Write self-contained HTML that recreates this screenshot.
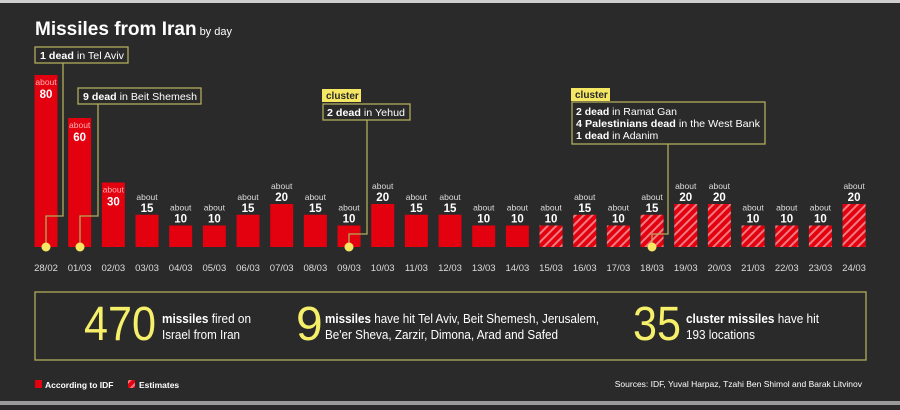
<!DOCTYPE html>
<html><head><meta charset="utf-8"><style>
html,body{margin:0;padding:0;background:#2a2a2a;}
body{width:900px;height:405px;overflow:hidden;position:relative;font-family:"Liberation Sans",sans-serif;}
svg text{font-family:"Liberation Sans",sans-serif;}
</style></head><body>
<svg id="chart" width="900" height="405" viewBox="0 0 900 405" xmlns="http://www.w3.org/2000/svg">
<defs>
<pattern id="hatch" patternUnits="userSpaceOnUse" width="6" height="6" patternTransform="rotate(45)">
<rect width="6" height="6" fill="#e3000f"/><rect width="2" height="6" fill="#f07a80"/>
</pattern>
</defs>
<rect x="0" y="0" width="900" height="405" fill="#2a2a2a"/>
<rect x="0" y="0" width="900" height="3" fill="#cfcfcf"/>
<rect x="0" y="401" width="900" height="4" fill="#9a9a9a"/>
<text x="35" y="35" fill="#fff" font-size="19" font-weight="bold">Missiles from Iran<tspan font-size="11" font-weight="normal" dx="3">by day</tspan></text>
<g id="bars"></g>
<g id="annotations">
<g fill="none" stroke="#b1ab5c" stroke-width="1.3">
<polyline points="63,63 63,216 46,216 46,247"/>
<polyline points="98,104 98,216 80,216 80,247"/>
<polyline points="367,120 367,234 349,234 349,247"/>
<polyline points="668,144 668,234 652,234 652,247"/>
<rect x="35" y="47" width="93" height="16" fill="#2a2a2a"/>
<rect x="78" y="88" width="123" height="16" fill="#2a2a2a"/>
<rect x="323" y="104" width="87" height="16" fill="#2a2a2a"/>
<rect x="572" y="102" width="193" height="42" fill="#2a2a2a"/>
<rect x="35" y="292" width="831" height="68"/>
</g>
<g fill="#f5e663">
<circle cx="46" cy="247" r="4.5"/><circle cx="80" cy="247" r="4.5"/><circle cx="349" cy="247" r="4.5"/><circle cx="652" cy="247" r="4.5"/>
<rect x="322" y="89" width="39" height="13"/><rect x="571" y="88" width="39" height="13"/>
</g>
<g fill="#2a2a2a" font-size="10" font-weight="bold"><text x="326" y="99">cluster</text><text x="575" y="98">cluster</text></g>
<g fill="#fff" font-size="10.5">
<text x="40" y="59" textLength="84" lengthAdjust="spacingAndGlyphs"><tspan font-weight="bold">1 dead</tspan> in Tel Aviv</text>
<text x="83" y="100" textLength="114" lengthAdjust="spacingAndGlyphs"><tspan font-weight="bold">9 dead</tspan> in Beit Shemesh</text>
<text x="327" y="116" textLength="78" lengthAdjust="spacingAndGlyphs"><tspan font-weight="bold">2 dead</tspan> in Yehud</text>
<text x="576" y="115"><tspan font-weight="bold">2 dead</tspan> in Ramat Gan</text>
<text x="576" y="127" textLength="184" lengthAdjust="spacingAndGlyphs"><tspan font-weight="bold">4 Palestinians dead</tspan> in the West Bank</text>
<text x="576" y="139"><tspan font-weight="bold">1 dead</tspan> in Adanim</text>
</g>
</g>
<g>
<text x="84" y="340" fill="#f5ef6a" font-size="48" textLength="72" lengthAdjust="spacingAndGlyphs">470</text>
<text x="162" y="323" fill="#fff" font-size="12.5" textLength="89" lengthAdjust="spacingAndGlyphs"><tspan font-weight="bold">missiles</tspan> fired on</text>
<text x="162" y="339" fill="#fff" font-size="12.5" textLength="78" lengthAdjust="spacingAndGlyphs">Israel from Iran</text>
<text x="296" y="340" fill="#f5ef6a" font-size="48">9</text>
<text x="325" y="323" fill="#fff" font-size="12.5" textLength="274" lengthAdjust="spacingAndGlyphs"><tspan font-weight="bold">missiles</tspan> have hit Tel Aviv, Beit Shemesh, Jerusalem,</text>
<text x="325" y="339" fill="#fff" font-size="12.5" textLength="233" lengthAdjust="spacingAndGlyphs">Be'er Sheva, Zarzir, Dimona, Arad and Safed</text>
<text x="633" y="340" fill="#f5ef6a" font-size="48" textLength="48" lengthAdjust="spacingAndGlyphs">35</text>
<text x="686" y="323" fill="#fff" font-size="12.5" textLength="133" lengthAdjust="spacingAndGlyphs"><tspan font-weight="bold">cluster missiles</tspan> have hit</text>
<text x="686" y="339" fill="#fff" font-size="12.5" textLength="69" lengthAdjust="spacingAndGlyphs">193 locations</text>
</g>
<g>
<rect x="35" y="380" width="7" height="8" fill="#e3000f"/>
<text x="45" y="388" fill="#fff" font-size="8.5" font-weight="bold">According to IDF</text>
<rect x="128" y="380" width="7" height="8" fill="url(#hatch)"/>
<text x="139" y="388" fill="#fff" font-size="8.5" font-weight="bold">Estimates</text>
</g>
<text x="862" y="387" fill="#fff" font-size="8.5" text-anchor="end">Sources: IDF, Yuval Harpaz, Tzahi Ben Shimol and Barak Litvinov</text>
</svg>
<script>
const categories=["28/02","01/03","02/03","03/03","04/03","05/03","06/03","07/03","08/03","09/03","10/03","11/03","12/03","13/03","14/03","15/03","16/03","17/03","18/03","19/03","20/03","21/03","22/03","23/03","24/03"];
const values=[80,60,30,15,10,10,15,20,15,10,20,15,15,10,10,10,15,10,15,20,20,10,10,10,20];
const estimated=[0,0,0,0,0,0,0,0,0,0,0,0,0,0,0,1,1,1,1,1,1,1,1,1,1];
const NS="http://www.w3.org/2000/svg";
const baseY=247, pxPerUnit=2.15, x0=46, step=33.67, bw=23;
function xScale(i){return x0+i*step;}
function yScale(v){return baseY-v*pxPerUnit;}
const g=document.getElementById('bars');
function mk(tag,attrs){const e=document.createElementNS(NS,tag);for(const k in attrs)e.setAttribute(k,attrs[k]);return e;}
categories.forEach((c,i)=>{
  const cx=xScale(i), top=yScale(values[i]);
  const r=mk('rect',{x:cx-bw/2,y:top,width:bw,height:baseY-top,fill:estimated[i]?'url(#hatch)':'#e3000f'});
  
  
  g.appendChild(r);
  const inside=values[i]>=30;
  const ay=inside?top+10:top-15, ny=inside?top+23:top-3;
  const a=mk('text',{x:cx,y:ay,'text-anchor':'middle','font-size':'8.5',fill:inside?'#ffb0b0':'#ddd'});
  a.textContent='about';
  
  
  g.appendChild(a);
  const n=mk('text',{x:cx,y:ny,'text-anchor':'middle','font-size':'11.5','font-weight':'bold',fill:'#fff'});
  n.textContent=values[i];
  
  
  g.appendChild(n);
  const d=mk('text',{x:cx,y:271,'text-anchor':'middle','font-size':'9.5',fill:'#ddd'});
  d.textContent=c;
  
  
  g.appendChild(d);
});
</script>
</body></html>
